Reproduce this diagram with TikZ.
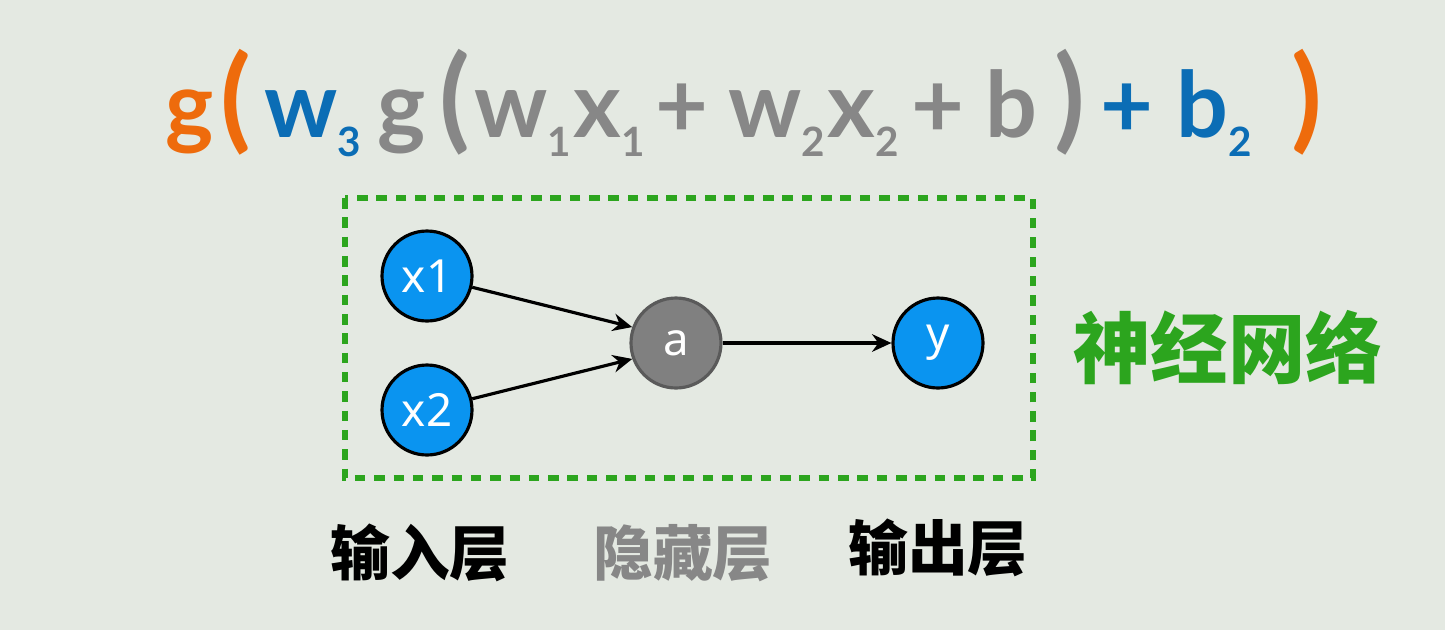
\documentclass[tikz,border=0pt]{standalone}
\usepackage{fontspec}
\usetikzlibrary{positioning,arrows.meta}
\newfontfamily\eqfont{Lato}
\newfontfamily\nodefont{Noto Sans}
\newfontfamily\cjk{Noto Sans CJK SC}
\definecolor{paper}{HTML}{E4E9E2}
\definecolor{tangerine}{HTML}{EE6B0C}
\definecolor{ocean}{HTML}{0B6DB5}
\definecolor{slate}{HTML}{878787}
\definecolor{sky}{HTML}{0A94F0}
\definecolor{ash}{HTML}{808080}
\definecolor{grass}{HTML}{2CA51E}
\newcommand{\lowsub}[1]{\raisebox{-11pt}{\fontsize{23}{23}\selectfont #1}}
\tikzset{
  term/.style={anchor=base west,inner sep=0pt,font=\eqfont\bfseries\fontsize{52}{52}\selectfont},
  paren/.style={term,font=\eqfont\bfseries\fontsize{64}{64}\selectfont},
  unit/.style={circle,draw=black,line width=1.8pt,fill=sky,text=white,minimum size=1.8cm,
               inner sep=0pt,font=\nodefont\fontsize{26}{26}\selectfont},
  hidden/.style={unit,fill=ash,draw=ash!70!black},
  link/.style={-{Stealth[length=11pt,width=10pt]},line width=1.8pt},
  layer/.style={font=\cjk\bfseries\fontsize{34}{34}\selectfont}
}

\begin{document}
\begin{tikzpicture}[x=0.02cm,y=-0.02cm]
    \fill[paper] (0,0) rectangle (1445,630);

    % formula
    \node[term,text=tangerine] (gout) at (165,137) {g};
    \node[paren,text=tangerine] (lpout) at (220,137) {(};
    \node[term,text=ocean] (wthree) at (264,137) {w\lowsub{3}};
    \node[term,text=slate] (gin) at (377,137) {g};
    \node[paren,text=slate] (lpin) at (439,137) {(};
    \node[term,text=slate] (wone) at (474,137) {w\lowsub{1}};
    \node[term,text=slate] (xone) at (573,137) {x\lowsub{1}};
    \node[term,text=slate] (plusa) at (655,137) {+};
    \node[term,text=slate] (wtwo) at (728,137) {w\lowsub{2}};
    \node[term,text=slate] (xtwo) at (827,137) {x\lowsub{2}};
    \node[term,text=slate] (plusb) at (911,137) {+};
    \node[term,text=slate] (bin) at (985,137) {b};
    \node[paren,text=slate] (rpin) at (1054,137) {)};
    \node[term,text=ocean] (plusc) at (1100,137) {+};
    \node[term,text=ocean] (btwo) at (1176,137) {b\lowsub{2}};
    \node[paren,text=tangerine] (rpout) at (1291,137) {)};

    % network
    \draw[grass,line width=3.2pt,dash pattern=on 6pt off 5pt] (345,198) rectangle (1033,478);

    \node[unit] (x1) at (427,276) {x1};
    \node[unit] (x2) at (427,410) {x2};
    \node[hidden] (a) at (676,343) {a};
    \node[unit] (y) at (938,343) {y};

    \draw[link] (x1) -- (a.160);
    \draw[link] (x2) -- (a.200);
    \draw[link] (a) -- (y);

    \node[layer,text=grass,font=\cjk\bfseries\fontsize{44}{44}\selectfont] (net) at (1228,348) {神经网络};

    \node[layer] (inlayer) at (420,553) {输入层};
    \node[layer,text=slate] (hidlayer) at (683,553) {隐藏层};
    \node[layer] (outlayer) at (938,548) {输出层};
\end{tikzpicture}
\end{document}
